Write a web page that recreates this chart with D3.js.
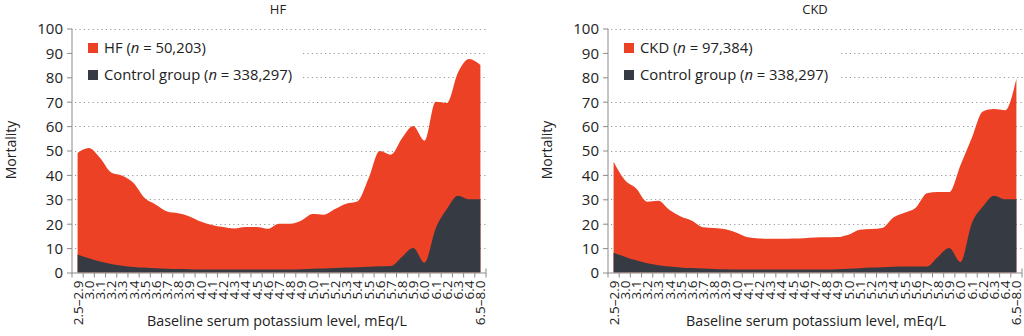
<!DOCTYPE html>
<html>
<head>
    <meta charset="utf-8">
    <title>Mortality by serum potassium</title>
    <style>
        body { margin: 0; background: #fff; }
        svg text { font-family: "Open Sans", "Noto Sans", sans-serif; fill: #222; }
        .grid line { stroke: #9a9a9a; stroke-dasharray: 1.2 3.2; stroke-width: 1.1; }
        .axis path, .axis line { stroke: #8a8a8a; }
    </style>
</head>
<body>
<svg id="chart" width="1024" height="336"></svg>
<script src="https://cdn.jsdelivr.net/npm/d3@7"></script>
<script>
    // categories (baseline serum potassium, mEq/L)
    var categories = ["2.5\u20132.9", "3.0", "3.1", "3.2", "3.3", "3.4", "3.5", "3.6", "3.7", "3.8", "3.9",
        "4.0", "4.1", "4.2", "4.3", "4.4", "4.5", "4.6", "4.7", "4.8", "4.9",
        "5.0", "5.1", "5.2", "5.3", "5.4", "5.5", "5.6", "5.7", "5.8", "5.9",
        "6.0", "6.1", "6.2", "6.3", "6.4", "6.5\u20138.0"];

    var yTicks = [0, 10, 20, 30, 40, 50, 60, 70, 80, 90, 100];

    // mortality values
    var hfValues = [49, 51, 47, 41, 39.7, 36.7, 30.5, 27.8, 25, 24.3, 23,
        20.9, 19.5, 18.6, 18, 18.6, 18.6, 17.9, 20, 20, 21.3,
        24, 23.7, 26, 28.2, 29.1, 38.5, 49.8, 48.3, 55, 60,
        54, 70, 69.5, 82, 87.5, 85];
    var hfControl = [7.4, 5.8, 4.5, 3.5, 2.8, 2.3, 2, 1.7, 1.5, 1.4, 1.3,
        1.2, 1.2, 1.2, 1.2, 1.2, 1.2, 1.2, 1.2, 1.2, 1.3,
        1.5, 1.6, 1.8, 2, 2.2, 2.4, 2.6, 2.7, 6.5, 10,
        4, 18, 26, 31.5, 30, 30];

    var ckdValues = [45.4, 37.9, 34.5, 29, 29.4, 25.6, 22.9, 21.2, 18.5, 18.2, 17.7,
        16.3, 14.4, 13.9, 13.8, 13.8, 13.9, 14, 14.3, 14.4, 14.5,
        15.5, 17.5, 17.8, 18.2, 22.5, 24.5, 26.5, 32.5, 33, 33,
        44, 55, 66, 67, 66.5, 79.5];
    var ckdControl = [8.1, 6.5, 5, 3.8, 3, 2.5, 2.1, 1.8, 1.6, 1.4, 1.3,
        1.2, 1.2, 1.2, 1.2, 1.2, 1.2, 1.2, 1.2, 1.2, 1.3,
        1.5, 1.7, 2, 2.2, 2.4, 2.5, 2.5, 2.5, 6.5, 10,
        4.3, 20, 27, 31.5, 30, 30];

    var RED = "#ec4125";
    var DARK = "#363b43";

    var svg = d3.select("#chart");

    function drawPanel(p) {
        var g = svg.append("g");
        var x = d3.scaleBand().domain(categories).range([p.left, p.right]).padding(0);
        var y = d3.scaleLinear().domain([0, 100]).range([272.5, 28.5]);
        var cx = function (d, i) { return x(categories[i]) + x.bandwidth() / 2; };

        // dotted gridlines
        g.append("g").attr("class", "grid")
            .selectAll("line").data(yTicks.slice(1)).enter().append("line")
            .attr("x1", function (d) { return (d == 80 || d == 90) ? p.gridSkip : p.left + 3; })
            .attr("x2", p.right + 2)
            .attr("y1", function (d) { return Math.round(y(d)) + 0.5; })
            .attr("y2", function (d) { return Math.round(y(d)) + 0.5; });

        var area = d3.area().curve(d3.curveMonotoneX).x(cx).y0(y(0)).y1(function (d) { return y(d); });
        g.append("path").datum(p.values).attr("d", area).attr("fill", RED);
        g.append("path").datum(p.control).attr("d", area).attr("fill", DARK);

        // y axis
        var ya = g.append("g").attr("class", "axis")
            .attr("transform", "translate(" + p.left + ",0)")
            .call(d3.axisLeft(y).tickValues(yTicks).tickSize(5).tickPadding(4));
        ya.select(".domain").attr("d", "M0," + y(0) + "V" + y(100));
        ya.selectAll("text").style("font-size", "15px").attr("dy", "0.36em");

        // x axis, ticks at band edges
        var xa = g.append("g").attr("class", "axis")
            .attr("transform", "translate(0," + y(0) + ")");
        xa.append("line").attr("x1", p.left).attr("x2", p.right).attr("y1", 0.5).attr("y2", 0.5);
        xa.selectAll(".tk").data(categories.concat(["end"])).enter().append("line")
            .attr("class", "tk")
            .attr("x1", function (d, i) { return p.left + i * x.step(); })
            .attr("x2", function (d, i) { return p.left + i * x.step(); })
            .attr("y1", function (d, i) { return i == categories.length ? -4 : 0; })
            .attr("y2", 5);
        xa.selectAll("text").data(categories).enter().append("text")
            .attr("transform", function (d, i) { return "translate(" + (cx(d, i) + 5) + ",8) rotate(-90)"; })
            .attr("text-anchor", "end")
            .style("font-size", "13.5px")
            .text(function (d) { return d; });

        // titles
        g.append("text").attr("x", p.titleX).attr("y", 14).attr("text-anchor", "middle")
            .style("font-size", "13px").text(p.title);
        g.append("text").attr("transform", "translate(" + p.yLabelX + ",150) rotate(-90)")
            .attr("text-anchor", "middle").style("font-size", "14px").text("Mortality");
        g.append("text").attr("x", p.xLabelX).attr("y", 326).attr("text-anchor", "middle")
            .style("font-size", "14.3px").text("Baseline serum potassium level, mEq/L");

        // legend
        var items = [{ c: RED, a: p.title + " (", n: " = " + p.n + ")" },
                     { c: DARK, a: "Control group (", n: " = 338,297)" }];
        var lg = g.selectAll(".lg").data(items).enter().append("g")
            .attr("transform", function (d, i) { return "translate(" + (p.left + 16) + "," + (43 + i * 27) + ")"; });
        lg.append("rect").attr("width", 10).attr("height", 10).attr("fill", function (d) { return d.c; });
        var t = lg.append("text").attr("x", 16).attr("y", 10).style("font-size", "14.8px");
        t.append("tspan").text(function (d) { return d.a; });
        t.append("tspan").style("font-style", "italic").text("n");
        t.append("tspan").text(function (d) { return d.n; });
    }

    drawPanel({ title: "HF", n: "50,203", values: hfValues, control: hfControl,
        left: 72, right: 486, gridSkip: 303, titleX: 278, yLabelX: 16, xLabelX: 277 });
    drawPanel({ title: "CKD", n: "97,384", values: ckdValues, control: ckdControl,
        left: 608, right: 1022, gridSkip: 841, titleX: 815, yLabelX: 552, xLabelX: 816 });
</script>
</body>
</html>
